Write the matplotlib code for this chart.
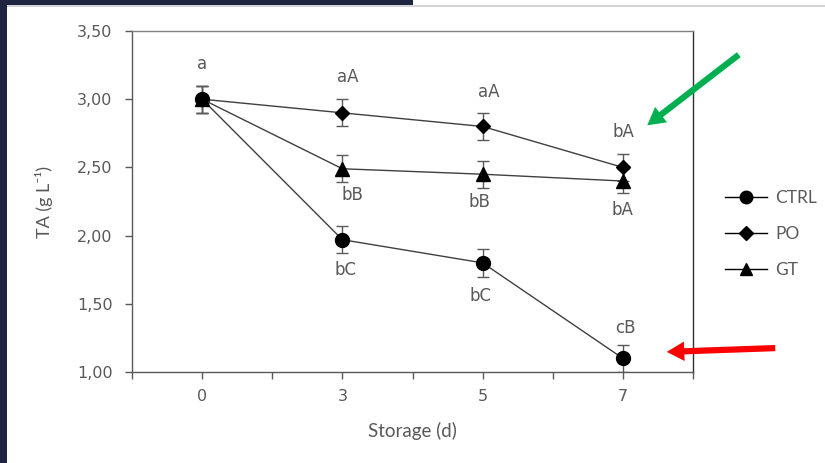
import numpy as np
import matplotlib.pyplot as plt
from matplotlib.patches import Rectangle
from matplotlib.lines import Line2D

days = ["0", "3", "5", "7"]

ctrl = [3.00, 1.97, 1.80, 1.10]
ctrl_err = [0.10, 0.10, 0.10, 0.10]
po = [3.00, 2.90, 2.80, 2.50]
po_err = [0.10, 0.10, 0.10, 0.10]
gt = [3.00, 2.49, 2.45, 2.40]
gt_err = [0.10, 0.10, 0.10, 0.09]

ctrl_letters = ["a", "bC", "bC", "cB"]
po_letters = ["", "aA", "aA", "bA"]
gt_letters = ["", "bB", "bB", "bA"]

if __name__ == "__main__":
    W, H = 825, 463
    fig = plt.figure(figsize=(W / 100, H / 100), dpi=100)

    # slide background bits around the white card
    navy = "#1e2540"
    fig.add_artist(Rectangle((0, 0), 7 / W, 1, transform=fig.transFigure, color=navy, lw=0))
    fig.add_artist(Rectangle((0, 1 - 5 / H), 413 / W, 5 / H, transform=fig.transFigure, color=navy, lw=0))
    fig.add_artist(Rectangle((7 / W, 1 - 7 / H), 1, 2 / H, transform=fig.transFigure, color="#d4d4d4", lw=0))

    ax = fig.add_axes([132 / W, 1 - 372 / H, (693 - 132) / W, (372 - 31) / H])
    x = np.arange(len(days))
    grey = "#595959"
    line_col = "#3f3f3f"

    series = [
        ("CTRL", ctrl, ctrl_err, "o", 10),
        ("PO", po, po_err, "D", 7.5),
        ("GT", gt, gt_err, "^", 9.5),
    ]
    handles = []
    for name, vals, err, mk, ms in series:
        ax.errorbar(x, vals, yerr=err, color=line_col, lw=1, marker=mk, ms=ms,
                    mfc="black", mec="black", ecolor=grey, elinewidth=1,
                    capsize=4, capthick=1, zorder=3)
        handles.append(Line2D([], [], color="black", lw=1, marker=mk, ms=ms * 0.9,
                              mfc="black", mec="black", label=name))

    # significance letters, offsets in pixels from the point
    lab_font = dict(fontsize=12, color=grey, ha="center", va="center", family="DejaVu Sans")
    ctrl_off = [(0, 35), (3, -30), (-2, -33), (2, 30)]
    po_off = [(0, 0), (5, 36), (6, 34), (1, 35)]
    gt_off = [(0, 0), (10, -26), (-3, -28), (0, -29)]
    for vals, letters, offs in [(ctrl, ctrl_letters, ctrl_off),
                                (po, po_letters, po_off),
                                (gt, gt_letters, gt_off)]:
        for i, (v, t, o) in enumerate(zip(vals, letters, offs)):
            if t:
                ax.annotate(t, (x[i], v), xytext=o, textcoords="offset pixels", **lab_font)

    ax.set_xlim(-0.5, 3.5)
    ax.set_ylim(1.0, 3.5)
    ax.set_yticks(np.arange(1.0, 3.51, 0.5))
    ax.set_yticklabels([f"{v:.2f}".replace(".", ",") for v in np.arange(1.0, 3.51, 0.5)])
    ax.set_xticks(np.arange(-0.5, 3.51, 0.5))
    xl = []
    for t in np.arange(-0.5, 3.51, 0.5):
        xl.append(days[int(t)] if t == int(t) else "")
    ax.set_xticklabels(xl)

    for s in ax.spines.values():
        s.set_color(grey)
        s.set_linewidth(1)
    ax.spines["top"].set_color("#808080")
    ax.spines["right"].set_color("#303030")
    ax.tick_params(axis="both", direction="out", length=5, width=1, color=grey,
                   labelcolor=grey, labelsize=11.5)
    ax.tick_params(axis="x", pad=7)
    ax.tick_params(axis="y", pad=9)

    ax.set_ylabel("TA (g L⁻¹)", fontsize=13, color=grey, family=["Lato", "DejaVu Sans"])
    ax.yaxis.set_label_coords(-0.14, 0.5)
    ax.set_xlabel("Storage (d)", fontsize=13.5, color=grey, family=["Lato", "DejaVu Sans"])
    ax.xaxis.set_label_coords(0.5, -0.145)

    leg = ax.legend(handles=handles, loc="upper left", bbox_to_anchor=(725 / W, 1 - 190 / H),
                    bbox_transform=fig.transFigure, frameon=False, handlelength=2.4,
                    handletextpad=0.5, labelspacing=1.15, borderpad=0, borderaxespad=0,
                    prop={"family": "Lato", "size": 12.5})
    for t in leg.get_texts():
        t.set_color(grey)

    # highlight arrows
    style = "simple,head_length=0.9,head_width=1.0,tail_width=0.32"
    fig.add_artist(plt.Annotation("", xy=(645 / W, 1 - 127 / H), xytext=(741 / W, 1 - 53 / H),
                                  xycoords="figure fraction", textcoords="figure fraction",
                                  arrowprops=dict(arrowstyle=style, mutation_scale=14,
                                                  color="#00b050", lw=0)))
    fig.add_artist(plt.Annotation("", xy=(664 / W, 1 - 352 / H), xytext=(778 / W, 1 - 348 / H),
                                  xycoords="figure fraction", textcoords="figure fraction",
                                  arrowprops=dict(arrowstyle=style, mutation_scale=14,
                                                  color="#ff0000", lw=0)))

    fig.savefig("out.png", dpi=100)
